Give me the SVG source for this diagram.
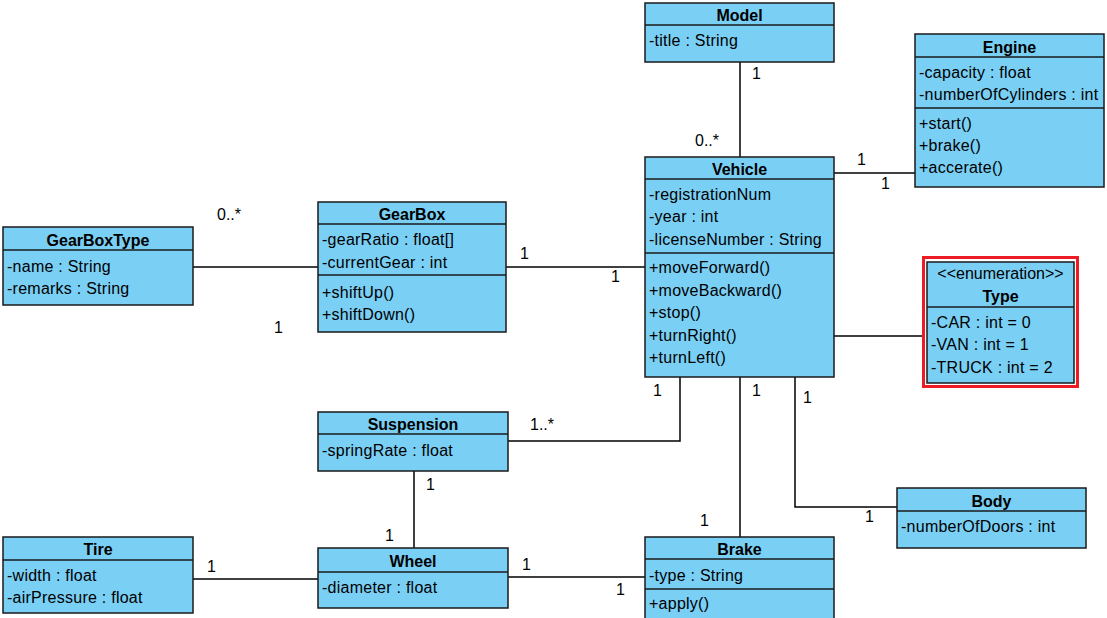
<svg xmlns="http://www.w3.org/2000/svg" width="1107" height="618" viewBox="0 0 1107 618">
<style>
.box{fill:#7ACFF5;stroke:#1a1a1a;stroke-width:1.5}
.sep{stroke:#1a1a1a;stroke-width:1.5}
.t{font-family:"Liberation Sans",Arial,sans-serif;font-size:16px;font-weight:bold;text-anchor:middle;fill:#000}
.a{font-family:"Liberation Sans",Arial,sans-serif;font-size:16px;letter-spacing:0.25px;fill:#000}
.c{font-family:"Liberation Sans",Arial,sans-serif;font-size:16px;text-anchor:middle;fill:#000}
.ln{fill:none;stroke:#000;stroke-width:1.5}
.lb{font-family:"Liberation Sans",Arial,sans-serif;font-size:16px;fill:#000}
</style>
<rect width="1107" height="618" fill="#fff"/>
<g id="connectors">
<path class="ln" d="M740,62V157"/>
<path class="ln" d="M834,173H915"/>
<path class="ln" d="M834,336H923"/>
<path class="ln" d="M506,267H645"/>
<path class="ln" d="M193,267H318"/>
<path class="ln" d="M680,377V441H508"/>
<path class="ln" d="M740,377V537"/>
<path class="ln" d="M795,377V507H897"/>
<path class="ln" d="M414,471V548"/>
<path class="ln" d="M193,579H318"/>
<path class="ln" d="M508,577H645"/>
<text class="lb" x="752" y="79">1</text>
<text class="lb" x="695" y="146">0..*</text>
<text class="lb" x="857" y="165">1</text>
<text class="lb" x="881" y="189">1</text>
<text class="lb" x="520" y="259">1</text>
<text class="lb" x="611" y="282">1</text>
<text class="lb" x="217" y="220">0..*</text>
<text class="lb" x="274" y="333">1</text>
<text class="lb" x="653" y="396">1</text>
<text class="lb" x="530" y="430">1..*</text>
<text class="lb" x="752" y="396">1</text>
<text class="lb" x="700" y="526">1</text>
<text class="lb" x="803" y="403">1</text>
<text class="lb" x="865" y="522">1</text>
<text class="lb" x="426" y="490">1</text>
<text class="lb" x="385" y="541">1</text>
<text class="lb" x="207" y="572">1</text>
<text class="lb" x="522" y="570">1</text>
<text class="lb" x="616" y="595">1</text>
</g>
<g id="Model">
<rect class="box" x="645" y="3" width="189" height="59"/>
<line class="sep" x1="645" y1="25" x2="834" y2="25"/>
<text class="t" x="739.5" y="21">Model</text>
<text class="a" x="649" y="46">-title : String</text>
</g>
<g id="Engine">
<rect class="box" x="915" y="34" width="189" height="153"/>
<line class="sep" x1="915" y1="57" x2="1104" y2="57"/>
<line class="sep" x1="915" y1="108" x2="1104" y2="108"/>
<text class="t" x="1009.5" y="53">Engine</text>
<text class="a" x="919" y="78">-capacity : float</text>
<text class="a" x="919" y="100">-numberOfCylinders : int</text>
<text class="a" x="919" y="129">+start()</text>
<text class="a" x="919" y="151">+brake()</text>
<text class="a" x="919" y="173">+accerate()</text>
</g>
<g id="Vehicle">
<rect class="box" x="645" y="157" width="189" height="220"/>
<line class="sep" x1="645" y1="179" x2="834" y2="179"/>
<line class="sep" x1="645" y1="253" x2="834" y2="253"/>
<text class="t" x="739.5" y="175">Vehicle</text>
<text class="a" x="649" y="200">-registrationNum</text>
<text class="a" x="649" y="222">-year : int</text>
<text class="a" x="649" y="245">-licenseNumber : String</text>
<text class="a" x="649" y="273">+moveForward()</text>
<text class="a" x="649" y="296">+moveBackward()</text>
<text class="a" x="649" y="318">+stop()</text>
<text class="a" x="649" y="341">+turnRight()</text>
<text class="a" x="649" y="363">+turnLeft()</text>
</g>
<g id="Type">
<rect x="923.5" y="257.5" width="154" height="129" fill="#fff" stroke="#ED1C24" stroke-width="3"/>
<rect class="box" x="927" y="262" width="147" height="121"/>
<line class="sep" x1="927" y1="307" x2="1074" y2="307"/>
<text class="c" x="1000.5" y="279">&lt;&lt;enumeration&gt;&gt;</text>
<text class="t" x="1000.5" y="302">Type</text>
<text class="a" x="931" y="328">-CAR : int = 0</text>
<text class="a" x="931" y="350">-VAN : int = 1</text>
<text class="a" x="931" y="373">-TRUCK : int = 2</text>
</g>
<g id="GearBoxType">
<rect class="box" x="3" y="227" width="190" height="78"/>
<line class="sep" x1="3" y1="250" x2="193" y2="250"/>
<text class="t" x="98" y="246">GearBoxType</text>
<text class="a" x="7" y="272">-name : String</text>
<text class="a" x="7" y="294">-remarks : String</text>
</g>
<g id="GearBox">
<rect class="box" x="318" y="202" width="188" height="130"/>
<line class="sep" x1="318" y1="224" x2="506" y2="224"/>
<line class="sep" x1="318" y1="275" x2="506" y2="275"/>
<text class="t" x="412" y="220">GearBox</text>
<text class="a" x="322" y="245">-gearRatio : float[]</text>
<text class="a" x="322" y="268">-currentGear : int</text>
<text class="a" x="322" y="298">+shiftUp()</text>
<text class="a" x="322" y="320">+shiftDown()</text>
</g>
<g id="Suspension">
<rect class="box" x="318" y="412" width="190" height="59"/>
<line class="sep" x1="318" y1="434" x2="508" y2="434"/>
<text class="t" x="413" y="430">Suspension</text>
<text class="a" x="322" y="456">-springRate : float</text>
</g>
<g id="Wheel">
<rect class="box" x="318" y="548" width="190" height="60"/>
<line class="sep" x1="318" y1="572" x2="508" y2="572"/>
<text class="t" x="413" y="567">Wheel</text>
<text class="a" x="322" y="593">-diameter : float</text>
</g>
<g id="Tire">
<rect class="box" x="3" y="537" width="190" height="76"/>
<line class="sep" x1="3" y1="560" x2="193" y2="560"/>
<text class="t" x="98" y="555">Tire</text>
<text class="a" x="7" y="581">-width : float</text>
<text class="a" x="7" y="603">-airPressure : float</text>
</g>
<g id="Brake">
<rect class="box" x="645" y="537" width="189" height="90"/>
<line class="sep" x1="645" y1="559" x2="834" y2="559"/>
<line class="sep" x1="645" y1="589" x2="834" y2="589"/>
<text class="t" x="739.5" y="555">Brake</text>
<text class="a" x="649" y="581">-type : String</text>
<text class="a" x="649" y="609">+apply()</text>
</g>
<g id="Body">
<rect class="box" x="897" y="488" width="189" height="60"/>
<line class="sep" x1="897" y1="511" x2="1086" y2="511"/>
<text class="t" x="991.5" y="507">Body</text>
<text class="a" x="901" y="532">-numberOfDoors : int</text>
</g>
</svg>
